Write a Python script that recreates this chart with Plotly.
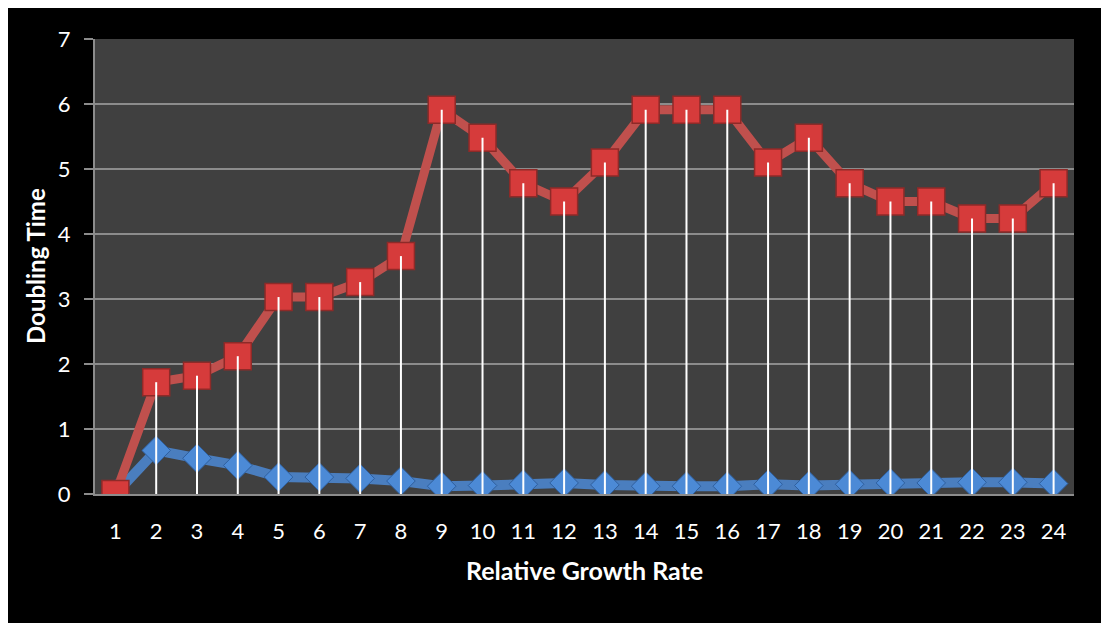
import plotly.graph_objects as go

categories = list(range(1, 25))
doubling_red = [0, 1.72, 1.82, 2.12, 3.03, 3.03, 3.26, 3.66, 5.91, 5.48, 4.78, 4.5,
                5.1, 5.91, 5.91, 5.91, 5.1, 5.48, 4.78, 4.5, 4.5, 4.24, 4.24, 4.78]
growth_blue = [0, 0.67, 0.55, 0.44, 0.26, 0.26, 0.24, 0.2, 0.12, 0.13, 0.15, 0.17,
               0.14, 0.12, 0.12, 0.12, 0.15, 0.13, 0.15, 0.17, 0.17, 0.18, 0.18, 0.16]
y_ticks = [0, 1, 2, 3, 4, 5, 6, 7]

OFF = 8  # page body margin
W, H = 1109, 623
# plot area in page pixels (as seen in screenshot)
L, R, T, B = 95, 1074, 39, 494
pw, ph = R - L, B - T

def px(x):
    return (x - L) / pw

def py(y):
    return (B - y) / ph

fig = go.Figure()

fig.add_trace(go.Scatter(
    x=categories, y=growth_blue, mode="lines+markers",
    line=dict(color="#4A7EBF", width=10),
    marker=dict(symbol="diamond", size=22, color="#4C8AD6",
                line=dict(color="#2F5F9E", width=1)),
    showlegend=False, hoverinfo="skip"))

fig.add_trace(go.Scatter(
    x=categories, y=doubling_red, mode="lines+markers",
    line=dict(color="#C0504D", width=9),
    marker=dict(symbol="square", size=27, color="#D63B3B",
                line=dict(color="#8E2A28", width=1.5)),
    showlegend=False, hoverinfo="skip"))

# drop lines from red series down to 0
dx, dy = [], []
for c, v in zip(categories, doubling_red):
    dx += [c, c, None]
    dy += [0, v, None]
fig.add_trace(go.Scatter(x=dx, y=dy, mode="lines",
                         line=dict(color="white", width=2),
                         showlegend=False, hoverinfo="skip"))

fig.update_layout(
    width=W, height=H,
    margin=dict(l=L - OFF, r=W - (R - OFF), t=T - OFF, b=H - (B - OFF), pad=0),
    paper_bgcolor="black", plot_bgcolor="#404040",
    font=dict(family="Lato, Open Sans, sans-serif", color="white", size=22),
    xaxis=dict(range=[0.5, 24.5], tickmode="array", tickvals=categories,
               ticktext=[str(c) for c in categories],
               showgrid=False, zeroline=False, showline=True,
               linecolor="#8C8C8C", linewidth=2, ticks="",
               ticklabelstandoff=17, tickfont=dict(size=22, color="white")),
    yaxis=dict(range=[0, 7], tickmode="array", tickvals=y_ticks,
               showgrid=True, gridcolor="#8C8C8C", gridwidth=2,
               zeroline=False, showline=True, linecolor="#8C8C8C", linewidth=2,
               ticks="outside", ticklen=9, tickwidth=2, tickcolor="#8C8C8C",
               ticklabelstandoff=9, tickfont=dict(size=22, color="white")),
    annotations=[
        dict(text="<b>Doubling Time</b>", xref="paper", yref="paper",
             x=px(35), y=py(266), textangle=-90, showarrow=False,
             font=dict(size=24, color="white"), xanchor="center", yanchor="middle"),
        dict(text="<b>Relative Growth Rate</b>", xref="paper", yref="paper",
             x=px(584), y=py(570), showarrow=False,
             font=dict(size=25, color="white"), xanchor="center", yanchor="middle"),
    ],
)

fig.write_html("out.html")
